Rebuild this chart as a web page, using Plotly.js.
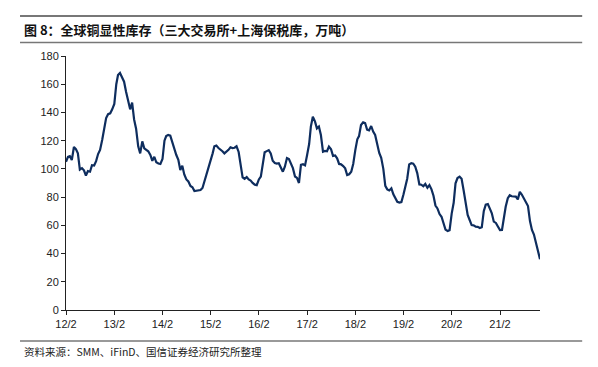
<!DOCTYPE html>
<html>
<head>
<meta charset="utf-8">
<script src="https://cdn.plot.ly/plotly-3.0.1.min.js"></script>
<style>html,body{margin:0;padding:0;background:#fff;}#chart{width:598px;height:367px;}</style>
</head>
<body>
<div id="chart"></div>
<script>
// Global visible copper inventory (10k tonnes), semi-monthly readings from 2012-02
const startYear = 2012, startMonth = 2;
const inventory = [
  105,108.5,109,106.3,115.5,114,111,99.5,100.5,99,95.3,98.5,98,102.6,102.4,105.5,
  110.5,113.4,120.5,129.9,136,138.8,139.4,142.2,146,160,166.5,168,164.2,161.8,154.7,148,
  142.2,147,135,128.5,116,111,119.5,114.6,113.2,112.5,109.9,105.7,108.6,104.7,103.8,103.5,
  107,120,123.3,124,123.5,118.8,115.5,110,106.5,99.2,102.2,96,92.5,91.1,87.9,87,
  84.3,84.6,84.6,85,86.5,91,96,101,105.1,111,116,116.5,114.8,113.9,112.5,111,
  112,113.5,115.3,114.8,115,116,112,103.5,94,93,94.2,92.5,91.7,90.1,88.8,
  88.5,92.5,94.5,102.5,111.8,112.6,113.3,111,105.8,104.2,103.8,104,101.6,98,101.5,107.7,
  107,104,100.5,94.6,93.6,90,102.8,103.3,102.5,110,117.6,130,137,133.7,128.7,130,
  124,112.2,112.7,112.5,115.8,113.9,109.2,109.5,107.5,103.5,103.2,102,100.4,95.6,96.2,98,
  103.5,113.5,121,123.2,131.1,133,132.5,127.8,127.3,130.4,126.4,124,117,111.3,107.8,100,
  88,85.5,84.7,86.2,82,79.2,76.7,76.1,76.5,82,88.6,93,103.2,104,103.7,101.6,
  97,89,88.8,87.7,89.3,86.6,88.5,85.5,81,74,72,68,66.1,62,57,
  56,56.6,68.3,76,89.8,93.5,94.5,93,85,75,67.3,63.8,60.2,60,59.1,58.9,
  58.1,58.6,70,74.6,75.1,71.8,68.5,62.6,61.7,59.2,56.6,56.7,65,73.2,79.2,81.3,
  80.6,80.6,80.4,78.4,83.7,81.8,79.2,76.2,73.7,63,56.7,53.5,47.7,42.1,36
];
const tickDates = ['2012-02-01','2013-02-01','2014-02-01','2015-02-01','2016-02-01','2017-02-01','2018-02-01','2019-02-01','2020-02-01','2021-02-01'];
const tickLabels = ['12/2','13/2','14/2','15/2','16/2','17/2','18/2','19/2','20/2','21/2'];
const titleText = '图 8：全球铜显性库存（三大交易所+上海保税库，万吨）';
const sourceText = '资料来源：SMM、iFinD、国信证券经济研究所整理';

function pad(n){return n<10?'0'+n:''+n;}
const dates = inventory.map((v,k)=>{
  const m = Math.floor(k/2);
  const total = (startMonth-1)+m;
  const y = startYear + Math.floor(total/12);
  const mo = total%12 + 1;
  return y+'-'+pad(mo)+'-'+(k%2?'16':'01');
});

const trace = {
  x: dates, y: inventory, type: 'scatter', mode: 'lines',
  line: {color: '#0e2d5e', width: 2.2},
  hoverinfo: 'skip'
};

const axisFont = {family: 'Liberation Sans, Arial, sans-serif', size: 11, color: '#222'};
const layout = {
  width: 598, height: 367,
  margin: {l: 66, r: 58, t: 56, b: 57},
  paper_bgcolor: '#fff', plot_bgcolor: '#fff',
  showlegend: false,
  xaxis: {
    type: 'date',
    range: ['2012-02-01', dates[dates.length-1]],
    tickmode: 'array', tickvals: tickDates, ticktext: tickLabels,
    ticks: 'outside', ticklen: 4, tickwidth: 1, tickcolor: '#222',
    showline: true, linecolor: '#222', linewidth: 1,
    showgrid: false, zeroline: false,
    tickfont: axisFont
  },
  yaxis: {
    range: [0, 180], dtick: 20, tick0: 0,
    ticks: 'outside', ticklen: 4, tickwidth: 1, tickcolor: '#222',
    showline: true, linecolor: '#222', linewidth: 1,
    showgrid: false, zeroline: false,
    tickfont: axisFont
  },
  shapes: [
    {type:'line', xref:'paper', yref:'paper', x0:-0.097, x1:1.089, y0:1.157, y1:1.157, line:{color:'#777', width:2}},
    {type:'line', xref:'paper', yref:'paper', x0:-0.097, x1:1.089, y0:1.053, y1:1.053, line:{color:'#777', width:1.5}},
    {type:'line', xref:'paper', yref:'paper', x0:-0.097, x1:1.089, y0:-0.122, y1:-0.122, line:{color:'#777', width:1.5}}
  ],
  annotations: [
    {text: '<b>'+titleText+'</b>', xref:'paper', yref:'paper', x:-0.093, y:1.106, xanchor:'left', yanchor:'middle', showarrow:false,
     font:{family:'Noto Sans CJK SC, sans-serif', size:13, color:'#111'}},
    {text: sourceText, xref:'paper', yref:'paper', x:-0.093, y:-0.165, xanchor:'left', yanchor:'middle', showarrow:false,
     font:{family:'Noto Sans CJK SC, sans-serif', size:10.5, color:'#222'}}
  ]
};

Plotly.newPlot('chart', [trace], layout, {displayModeBar: false, staticPlot: true});
</script>
</body>
</html>
